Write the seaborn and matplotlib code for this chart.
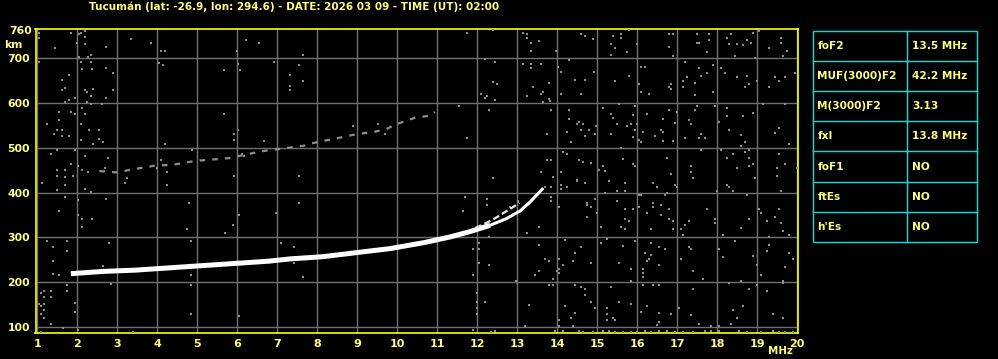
import matplotlib
matplotlib.use("Agg")
import matplotlib.pyplot as plt
import seaborn as sns
import pandas as pd
from matplotlib.patches import Rectangle

# ---------------- data ----------------
title = "Tucumán (lat: -26.9, lon: 294.6) - DATE: 2026 03 09 - TIME (UT): 02:00"

freq_ticks = list(range(1, 21))
km_ticks = [100, 200, 300, 400, 500, 600, 700]

# F2 ordinary trace (MHz, km)
trace_f = [1.84, 2.63, 3.47, 4.3, 5.13, 5.97, 6.8, 7.32, 8.15, 8.98, 9.82,
           10.65, 11.32, 11.82, 12.32]
trace_h = [219, 224, 227, 232, 237, 242, 247, 252, 257, 266, 275,
           288, 301, 313, 327]
cusp_f = [12.32, 12.73, 13.07, 13.32, 13.52, 13.65]
cusp_h = [327, 342, 359, 379, 398, 410]

# upper (extraordinary) branch near the cusp
xtrace_f = [11.95, 12.2, 12.45, 12.7, 12.9, 13.05]
xtrace_h = [321, 331, 343, 357, 368, 377]

# second-hop echo
hop2_f = [2.55, 3.0, 3.38, 3.93, 4.38, 4.97, 5.55, 5.8, 6.38, 6.67, 7.69, 7.86,
          8.19, 8.38, 8.9, 9.19, 9.4, 9.73, 9.98, 10.19, 10.44, 10.53, 10.83, 10.94]
hop2_h = [448, 445, 452, 460, 462, 471, 475, 477, 488, 493, 505, 510,
          516, 519, 529, 533, 535, 542, 553, 559, 567, 568, 572, 580]

# scattered noise echoes (MHz, km)
noise_f = [
    1.03, 1.03, 1.84, 2.05, 2.09, 2.19, 2.2, 1.99, 2.2, 1.44, 2.73, 3.34, 3.84, 4.09, 4.19,
    6.23, 6.53, 5.98, 2.05, 2.28, 2.33, 1.03, 2.09, 2.34, 4.03, 4.14, 6.03, 6.93, 1.79, 2.13,
    2.38, 2.73, 2.89, 5.68, 6.08, 1.63, 1.68, 1.63, 2.2, 2.25, 2.4, 2.89, 2.33, 2.73, 1.93,
    1.79, 1.68, 2.25, 2.34, 2.63, 2.13, 1.84, 1.93, 2.19, 1.54, 5.68, 1.54, 1.25, 2.08, 1.49,
    1.63, 2.29, 2.54, 1.43, 1.63, 1.78, 2.08, 2.54, 2.39, 2.64, 4.19, 6.03, 5.93, 5.93, 6.68,
    1.33, 1.49, 1.93, 2.19, 2.78, 1.84, 2.03, 2.13, 2.28, 1.49, 1.68, 1.49, 1.68, 1.88, 2.69,
    3.23, 3.59, 3.99, 4.09, 4.24, 4.88, 5.93, 6.13, 6.18,
    7.64, 7.54, 7.33, 7.64, 7.33, 7.33, 11.74, 12.39, 13.14, 13.24, 13.24, 13.34, 13.54, 13.34,
    12.19, 12.44, 13.14, 13.34, 13.34, 13.59, 12.39, 12.49, 12.09, 12.19, 12.24, 12.44, 13.24,
    13.39, 13.59, 13.64, 13.64, 11.54, 12.29, 11.74, 7.54, 12.39, 13.59, 8.88, 9.53, 9.69,
    14.59, 14.69, 14.89, 15.39, 15.59, 15.59, 15.79, 15.34, 15.44, 15.34, 15.74, 15.99, 16.79,
    16.89, 16.79, 16.89, 17.49, 17.79, 17.49, 17.54, 17.79, 17.74, 18.24, 18.34, 18.29, 18.49,
    18.64, 18.74, 18.84, 18.89, 19.04, 18.44, 18.94, 19.59, 19.59, 19.74, 19.29, 19.64, 13.98,
    14.29, 14.03, 14.09, 14.93, 14.44, 14.69, 13.79, 14.09, 13.79, 13.83, 14.59, 15.44, 15.79,
    16.09, 16.19, 16.04, 16.09, 16.29, 16.84, 16.79, 16.84, 17.19, 17.54, 17.24, 17.14, 17.44,
    17.59, 17.74, 17.89, 17.14, 17.44, 17.89, 18.09, 18.19, 18.49, 18.74, 18.79, 18.69, 18.99,
    19.44, 19.69, 19.54, 19.29, 19.94, 13.84, 14.29, 14.29, 14.54, 14.49, 14.64, 14.59, 14.79,
    14.24, 14.69, 14.94, 14.98, 14.34, 13.74, 15.14, 15.54, 15.34, 15.39, 15.89, 15.94, 15.49,
    15.74, 15.84, 15.94, 15.34, 15.89, 15.99, 16.04, 16.09, 16.24, 16.14, 16.44, 16.59, 16.64,
    16.64, 16.89, 16.79, 16.64, 16.94, 16.99, 17.29, 17.34, 17.44, 17.49, 17.19, 17.54, 17.69,
    17.59, 17.94, 18.04, 18.24, 18.24, 18.29, 18.59, 18.64, 18.89, 18.69, 18.59, 19.14, 19.69,
    19.54, 19.44, 19.79, 13.74, 13.84, 14.14, 14.24, 14.54, 14.64, 14.84, 14.09, 13.89, 14.49,
    15.04, 15.14, 15.19, 15.59, 15.64, 15.89, 15.94, 16.74, 16.84, 17.34, 17.34, 17.39, 17.59,
    18.09, 18.24, 18.39, 18.49, 18.69, 18.79, 18.79, 18.89, 18.94, 18.79, 19.54, 19.49, 19.49,
    19.99, 19.69,
    1.13, 1.69, 1.49, 2.19, 2.34, 3.19, 4.24, 1.69, 2.03, 2.73, 1.54, 2.03, 2.13, 2.38, 2.13,
    4.79, 6.04, 6.96, 5.89, 5.69, 4.74, 1.24, 1.74, 1.39, 1.74, 1.39, 2.79, 4.84, 7.09, 1.39,
    1.54, 2.64, 4.84, 2.84, 1.74, 1.74, 4.84, 1.08, 1.18, 1.33, 1.18, 1.33, 1.04, 1.18, 1.09,
    1.18, 1.09, 1.18, 1.33, 1.64, 1.94, 1.94, 2.03, 4.84, 6.04, 3.39, 1.08,
    7.54, 7.43, 7.64, 7.43, 11.69, 11.64, 12.24, 12.24, 13.03, 12.83, 13.24, 13.54, 13.54,
    13.54, 13.44, 12.98, 12.29, 12.04, 11.89, 12.04, 12.04, 12.29, 11.89, 11.99, 11.99, 11.99,
    11.99, 12.19, 13.29, 13.19, 11.89, 12.44, 12.34,
    13.69, 13.84, 14.09, 14.09, 14.24, 14.49, 14.69, 15.29, 15.69, 15.19, 15.49, 15.69, 15.49,
    16.09, 16.04, 16.39, 16.49, 16.69, 16.74, 16.94, 16.99, 18.24, 18.29, 18.39, 17.99, 18.74,
    19.59, 13.84, 13.84, 14.04, 14.74, 14.74, 14.94, 14.84, 14.99, 14.74, 15.69, 15.69, 15.79,
    15.09, 15.59, 15.69, 15.89, 16.04, 16.39, 16.39, 16.59, 16.59, 16.79, 16.24, 16.79, 16.89,
    16.34, 16.89, 17.29, 17.19, 17.09, 17.14, 17.74, 17.94, 17.94, 18.14, 18.59, 18.79, 19.04,
    19.09, 19.24, 19.44, 19.54, 19.59, 19.64, 19.79, 19.29, 14.19, 14.59, 15.09, 15.24, 15.64,
    15.94, 16.34, 16.54, 16.69, 17.29, 17.34, 18.04, 18.44, 19.29, 19.24, 19.79, 13.69, 13.79,
    14.04, 14.44, 14.39, 14.14, 14.04, 13.99, 14.04, 13.89, 14.84, 15.54, 15.84, 15.84, 16.14,
    16.14, 16.14, 16.19, 16.34, 16.24, 16.29, 16.54, 17.09, 17.39, 17.64, 18.14, 18.89, 18.99,
    19.09, 19.89, 19.69, 19.64, 13.79, 13.89, 14.44, 14.59, 14.69, 14.69, 15.34, 16.14, 16.39,
    16.54, 17.39, 18.29, 18.59, 18.79, 18.99, 19.24, 19.64, 14.19, 14.34, 14.44, 14.84, 14.94,
    15.24, 15.24, 15.24, 15.39, 15.44, 15.54, 15.84, 16.09, 16.24, 16.54, 16.84, 17.04, 17.34,
    16.54, 16.49, 17.54, 17.84, 18.04, 18.39, 18.64, 18.49, 18.34, 19.39, 19.64, 14.04, 14.04,
    14.39,
    13.94, 14.14, 14.54, 14.64, 14.89, 15.14, 15.29, 15.44, 15.64, 15.84, 15.99, 16.19, 16.34,
    16.54, 16.74, 16.94, 17.14, 17.39, 17.69, 17.84, 18.04, 18.54, 18.74, 19.09, 19.39, 19.54,
    19.69, 19.89,
]
noise_h = [
    757, 744, 757, 754, 757, 760, 747, 735, 732, 722, 725, 743, 734, 717, 717,
    740, 735, 717, 702, 702, 708, 692, 692, 692, 690, 684, 688, 692, 663, 675,
    675, 678, 666, 674, 674, 651, 634, 629, 629, 625, 631, 629, 616, 611, 611,
    607, 602, 602, 598, 598, 589, 580, 576, 576, 580, 576, 562, 553, 553, 540,
    540, 540, 540, 531, 526, 526, 517, 519, 508, 513, 508, 540, 531, 517, 516,
    486, 495, 495, 481, 477, 463, 460, 450, 446, 450, 450, 437, 434, 437, 454,
    432, 454, 454, 472, 446, 495, 437, 486, 481,
    708, 684, 663, 648, 638, 629, 757, 762, 757, 753, 744, 735, 738, 717,
    699, 692, 686, 688, 679, 688, 647, 643, 620, 611, 616, 607, 616,
    636, 620, 625, 602, 593, 584, 522, 437, 432, 446, 548, 553, 531,
    753, 749, 742, 749, 753, 744, 762, 731, 722, 708, 713, 731, 753,
    753, 726, 704, 753, 753, 735, 735, 740, 713, 744, 753, 731, 731,
    729, 740, 735, 757, 760, 706, 701, 744, 735, 717, 722, 704, 717,
    697, 681, 670, 670, 652, 652, 644, 621, 608, 604, 621, 648, 661,
    681, 681, 643, 625, 621, 643, 635, 631, 692, 677, 658, 648, 645,
    661, 666, 684, 635, 617, 625, 679, 668, 657, 661, 643, 635, 648,
    657, 657, 648, 635, 666, 585, 585, 565, 558, 553, 553, 540, 540,
    535, 526, 531, 548, 513, 531, 588, 598, 576, 567, 574, 593, 553,
    548, 553, 540, 531, 525, 553, 517, 513, 576, 535, 526, 540, 535,
    516, 516, 584, 565, 556, 580, 562, 553, 584, 593, 522, 522, 522,
    531, 594, 558, 588, 570, 540, 529, 570, 578, 513, 504, 598, 598,
    544, 533, 508, 472, 472, 490, 486, 472, 468, 466, 446, 435, 427,
    450, 459, 448, 499, 475, 463, 459, 477, 441, 459, 446, 432, 496,
    495, 477, 486, 454, 490, 495, 477, 463, 432, 460, 486, 454, 437,
    454, 463,
    422, 417, 405, 408, 401, 422, 417, 390, 383, 386, 359, 350, 341, 341, 323,
    377, 350, 355, 328, 310, 319, 292, 292, 279, 270, 248, 288, 292, 288, 219,
    216, 237, 216, 197, 194, 181, 194, 176, 181, 181, 167, 167, 152, 151, 146,
    138, 129, 121, 107, 98, 154, 133, 93, 129, 124, 88, 88,
    377, 279, 212, 242, 390, 359, 386, 372, 381, 368, 310, 323, 283,
    225, 216, 203, 301, 288, 274, 274, 243, 239, 216, 176, 155, 142,
    129, 155, 149, 102, 93, 91, 88,
    413, 413, 417, 408, 413, 425, 422, 425, 422, 399, 404, 404, 381,
    395, 395, 422, 413, 395, 399, 417, 413, 417, 413, 404, 404, 395,
    404, 390, 381, 368, 377, 372, 386, 368, 355, 346, 364, 341, 337,
    323, 323, 319, 364, 368, 377, 368, 372, 350, 364, 355, 341, 337,
    319, 319, 337, 328, 319, 306, 364, 341, 332, 306, 320, 341, 364,
    355, 337, 346, 364, 332, 314, 306, 301, 295, 279, 288, 297, 280,
    292, 288, 279, 274, 279, 274, 274, 292, 283, 270, 265, 252, 248,
    252, 265, 248, 239, 230, 226, 221, 208, 243, 243, 230, 203, 230,
    221, 212, 265, 261, 248, 252, 239, 252, 226, 208, 257, 259, 239,
    216, 252, 234, 203, 194, 194, 194, 190, 185, 172, 190, 194, 194,
    194, 185, 199, 203, 185, 194, 181, 199, 146, 120, 132, 155, 142,
    142, 129, 115, 120, 115, 155, 151, 133, 146, 132, 129, 142, 127,
    111, 105, 106, 103, 102, 138, 146, 120, 106, 129, 120, 115, 102,
    102,
    90, 91, 90, 89, 89, 91, 90, 89, 88, 89, 89, 92, 89,
    90, 90, 88, 88, 88, 90, 92, 90, 90, 88, 88, 90, 88,
    89, 88,
]

table_labels = ["foF2", "MUF(3000)F2", "M(3000)F2", "fxI", "foF1", "ftEs", "h'Es"]
table_values = ["13.5 MHz", "42.2 MHz", "3.13", "13.8 MHz", "NO", "NO", "NO"]

# ---------------- style ----------------
YEL = "#ffff80"
BORDER = "#ffff00"
GRID = "#707070"
NOISE = "#8c8c8c"
CYAN = "#00e0e0"
FONT = "DejaVu Sans"

W, H = 998, 359
fig = plt.figure(figsize=(W / 100, H / 100), dpi=100, facecolor="black")

x0, x1, y0, y1 = 35.5, 798.3, 29.3, 333.3
ax = fig.add_axes([x0 / W, (H - y1) / H, (x1 - x0) / W, (y1 - y0) / H])
ax.set_facecolor("black")
ax.set_xlim(0.955, 20.025)
ax.set_ylim(85.9, 764.5)

ax.set_xticks(freq_ticks)
ax.set_yticks(km_ticks)
ax.grid(True, color=GRID, linewidth=1.0)
ax.set_axisbelow(True)
ax.tick_params(length=0, colors=YEL, labelsize=8, pad=4)
ax.set_xticklabels([str(v) for v in freq_ticks], color=YEL, fontweight="bold", family=FONT)
ax.set_yticklabels([str(v) for v in km_ticks], color=YEL, fontweight="bold", family=FONT)
for lab in ax.get_yticklabels():
    lab.set_fontsize(7.8)
for sp in ax.spines.values():
    sp.set_color(BORDER)
    sp.set_linewidth(1.2)

noise_df = pd.DataFrame({"f": noise_f, "h": noise_h})
sns.scatterplot(data=noise_df, x="f", y="h", ax=ax, marker="s", s=4,
                color=NOISE, linewidth=0, legend=False, zorder=3)

hop_df = pd.DataFrame({"f": hop2_f, "h": hop2_h})
sns.lineplot(data=hop_df, x="f", y="h", ax=ax, color="#8e8e8e", linewidth=1.6,
             linestyle=(0, (2.5, 3.2)), estimator=None, sort=False, zorder=4)

tr_df = pd.DataFrame({"f": trace_f, "h": trace_h})
sns.lineplot(data=tr_df, x="f", y="h", ax=ax, color="white", linewidth=3.6,
             estimator=None, sort=False, zorder=5, solid_capstyle="butt")
cusp_df = pd.DataFrame({"f": cusp_f, "h": cusp_h})
sns.lineplot(data=cusp_df, x="f", y="h", ax=ax, color="white", linewidth=2.2,
             estimator=None, sort=False, zorder=5, solid_capstyle="butt")
x_df = pd.DataFrame({"f": xtrace_f, "h": xtrace_h})
sns.lineplot(data=x_df, x="f", y="h", ax=ax, color="#e8e8e8", linewidth=1.6,
             linestyle=(0, (3, 1.5)), estimator=None, sort=False, zorder=5)

ax.set_xlabel("")
ax.set_ylabel("")

# top label 760 and km
ax.text(-0.004, 764.5 - 4.5, "760", transform=ax.get_yaxis_transform(), ha="right",
        va="center", color=YEL, fontsize=7.8, fontweight="bold", family=FONT)
fig.text(13.5 / W, 1 - 45 / H, "km", ha="center", va="center", color=YEL,
         fontsize=7.8, fontweight="bold", family=FONT)
fig.text(780 / W, 1 - 351.5 / H, "MHz", ha="center", va="center", color=YEL,
         fontsize=7.4, fontweight="bold", family=FONT)

fig.text(294.5 / W, 1 - 6.7 / H, title, ha="center", va="center", color=YEL,
         fontsize=7.5, fontweight="bold", family=FONT)

# ---------------- parameter table ----------------
tx0, tx1, ty0, ty1 = 812.7, 977.3, 30.7, 242.0
tab = fig.add_axes([tx0 / W, (H - ty1) / H, (tx1 - tx0) / W, (ty1 - ty0) / H])
tab.set_xlim(0, 1)
tab.set_ylim(len(table_labels), 0)
tab.axis("off")
split = (907.3 - tx0) / (tx1 - tx0)
tab.add_patch(Rectangle((0, 0), 1, len(table_labels), fill=False, edgecolor=CYAN,
                        linewidth=1.0, clip_on=False))
tab.plot([split, split], [0, len(table_labels)], color=CYAN, linewidth=1.0, clip_on=False)
for i in range(1, len(table_labels)):
    tab.plot([0, 1], [i, i], color=CYAN, linewidth=1.0, clip_on=False)
for i, (lab, val) in enumerate(zip(table_labels, table_values)):
    tab.text(0.028, i + 0.5, lab, ha="left", va="center", color=YEL, fontsize=7.6,
             fontweight="bold", family=FONT)
    tab.text(split + 0.03, i + 0.5, val, ha="left", va="center", color=YEL, fontsize=7.6,
             fontweight="bold", family=FONT)

fig.savefig("out.png", dpi=100, facecolor="black")
